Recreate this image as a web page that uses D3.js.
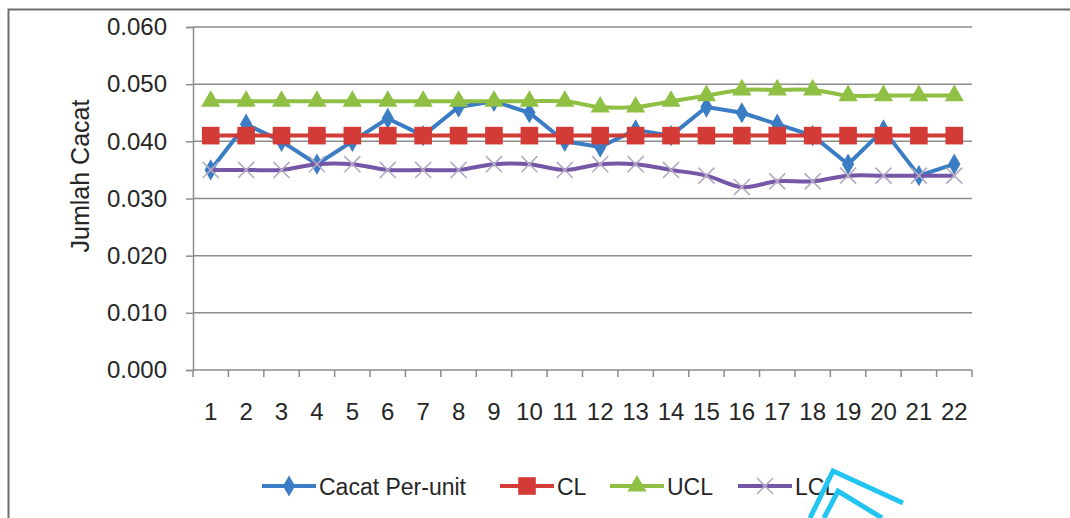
<!DOCTYPE html>
<html>
<head>
<meta charset="utf-8">
<script src="https://cdn.jsdelivr.net/npm/d3@7"></script>
<style>
  html, body { margin: 0; padding: 0; background: #fff; }
  svg { display: block; font-family: "Liberation Sans", Arial, sans-serif; }
</style>
</head>
<body>
<svg id="chart" width="1070" height="518"></svg>
<script>
// Sample numbers along the x axis
const samples = d3.range(1, 23);
// Defects per unit for each sample
const cacatPerUnit = [0.035, 0.043, 0.040, 0.036, 0.040, 0.044, 0.041, 0.046, 0.047, 0.045, 0.040,
                      0.039, 0.042, 0.041, 0.046, 0.045, 0.043, 0.041, 0.036, 0.042, 0.034, 0.036];
// Centre line
const cl = [0.041, 0.041, 0.041, 0.041, 0.041, 0.041, 0.041, 0.041, 0.041, 0.041, 0.041,
            0.041, 0.041, 0.041, 0.041, 0.041, 0.041, 0.041, 0.041, 0.041, 0.041, 0.041];
// Upper control limit
const ucl = [0.047, 0.047, 0.047, 0.047, 0.047, 0.047, 0.047, 0.047, 0.047, 0.047, 0.047,
             0.046, 0.046, 0.047, 0.048, 0.049, 0.049, 0.049, 0.048, 0.048, 0.048, 0.048];
// Lower control limit
const lcl = [0.035, 0.035, 0.035, 0.036, 0.036, 0.035, 0.035, 0.035, 0.036, 0.036, 0.035,
             0.036, 0.036, 0.035, 0.034, 0.032, 0.033, 0.033, 0.034, 0.034, 0.034, 0.034];
const yTicks = [0, 0.01, 0.02, 0.03, 0.04, 0.05, 0.06];
const seriesNames = ["Cacat Per-unit", "CL", "UCL", "LCL"];
const yTitle = "Jumlah Cacat";

const svg = d3.select("#chart");
const plot = { left: 193, right: 972, top: 27, bottom: 370 };

// outer chart frame
svg.append("path")
  .attr("d", "M8.5,518 L8.5,9.5 L1070,9.5")
  .attr("fill", "none").attr("stroke", "#6e6e6e").attr("stroke-width", 2);

const x = d3.scaleBand().domain(samples).range([plot.left, plot.right]);
const y = d3.scaleLinear().domain([0, 0.06]).range([plot.bottom, plot.top]);
const cx = d => x(d) + x.bandwidth() / 2;

// horizontal gridlines
svg.append("g").selectAll("line").data(yTicks.slice(1)).join("line")
  .attr("x1", plot.left).attr("x2", plot.right)
  .attr("y1", d => y(d)).attr("y2", d => y(d))
  .attr("stroke", "#8c8c8c").attr("stroke-width", 1.5);

// y axis
const yAxis = svg.append("g").attr("transform", `translate(${plot.left},0)`)
  .call(d3.axisLeft(y).tickValues(yTicks).tickFormat(d3.format(".3f")).tickSize(7).tickPadding(19));
yAxis.select(".domain").attr("stroke", "#8c8c8c").attr("stroke-width", 1.5);
yAxis.selectAll(".tick line").attr("stroke", "#8c8c8c").attr("stroke-width", 1.5);
yAxis.selectAll("text").attr("font-size", 24).attr("fill", "#262626")
  .attr("font-family", "Liberation Sans, Arial, sans-serif");

// x axis: tick marks sit between categories
const xAxis = svg.append("g").attr("transform", `translate(0,${plot.bottom})`);
xAxis.append("line").attr("x1", plot.left).attr("x2", plot.right)
  .attr("stroke", "#8c8c8c").attr("stroke-width", 1.5);
xAxis.selectAll("line.tk").data(d3.range(samples.length + 1)).join("line").attr("class", "tk")
  .attr("x1", i => plot.left + i * x.step()).attr("x2", i => plot.left + i * x.step())
  .attr("y1", 0).attr("y2", 7).attr("stroke", "#8c8c8c").attr("stroke-width", 1.5);
xAxis.selectAll("text").data(samples).join("text")
  .attr("x", d => cx(d)).attr("y", 50)
  .attr("text-anchor", "middle").attr("font-size", 24).attr("fill", "#262626")
  .text(d => d);

// y axis title
svg.append("text")
  .attr("transform", "translate(89,176) rotate(-90)")
  .attr("text-anchor", "middle").attr("font-size", 25).attr("fill", "#262626")
  .text(yTitle);

const colors = { cacat: "#3b7dc4", cl: "#d23b36", ucl: "#8fc044", lcl: "#7656a6", lclMarker: "#b3aac4" };

const straight = d3.line().x((d, i) => cx(samples[i])).y(d => y(d));
const smooth = d3.line().x((d, i) => cx(samples[i])).y(d => y(d)).curve(d3.curveCatmullRom.alpha(0.5));

const sym = {
  diamond: d3.symbol().type(d3.symbolDiamond).size(130),
  square: d3.symbol().type(d3.symbolSquare).size(310),
  triangle: d3.symbol().type(d3.symbolTriangle).size(160),
  cross: d3.symbol().type(d3.symbolTimes).size(170)
};

function drawSeries(values, lineGen, color, markerPath, markerFill, markerStroke, markerStrokeW) {
  const g = svg.append("g");
  g.append("path").attr("d", lineGen(values)).attr("fill", "none")
    .attr("stroke", color).attr("stroke-width", 4).attr("stroke-linejoin", "round");
  g.selectAll("path.m").data(values).join("path").attr("class", "m")
    .attr("transform", (d, i) => `translate(${cx(samples[i])},${y(d)})`)
    .attr("d", markerPath)
    .attr("fill", markerFill).attr("stroke", markerStroke).attr("stroke-width", markerStrokeW);
}

drawSeries(cacatPerUnit, straight, colors.cacat, sym.diamond(), colors.cacat, "none", 0);
drawSeries(cl, straight, colors.cl, sym.square(), colors.cl, "none", 0);
drawSeries(ucl, smooth, colors.ucl, sym.triangle(), colors.ucl, "none", 0);
drawSeries(lcl, smooth, colors.lcl, sym.cross(), "none", colors.lclMarker, 1.6);

// legend
const legendItems = [
  { name: seriesNames[0], x: 262, color: colors.cacat, marker: sym.diamond(), fill: colors.cacat, stroke: "none" },
  { name: seriesNames[1], x: 500, color: colors.cl, marker: sym.square(), fill: colors.cl, stroke: "none" },
  { name: seriesNames[2], x: 610, color: colors.ucl, marker: sym.triangle(), fill: colors.ucl, stroke: "none" },
  { name: seriesNames[3], x: 738, color: colors.lcl, marker: sym.cross(), fill: "none", stroke: colors.lclMarker }
];
const lg = svg.append("g").attr("transform", "translate(0,486)");
legendItems.forEach(it => {
  lg.append("line").attr("x1", it.x).attr("x2", it.x + 54)
    .attr("stroke", it.color).attr("stroke-width", 4);
  lg.append("path").attr("transform", `translate(${it.x + 27},0)`)
    .attr("d", it.marker).attr("fill", it.fill).attr("stroke", it.stroke).attr("stroke-width", 1.6);
  lg.append("text").attr("x", it.x + 57).attr("y", 9)
    .attr("font-size", 23).attr("fill", "#262626").text(it.name);
});

// cyan stamp mark in the lower right corner
const stamp = svg.append("g").attr("fill", "none").attr("stroke", "#22c4f2")
  .attr("stroke-width", 5).attr("stroke-linejoin", "miter");
stamp.append("path").attr("d", "M810,518 L833,471 L903,503");
stamp.append("path").attr("d", "M824,518 L838,491 L882,518");
</script>
</body>
</html>
